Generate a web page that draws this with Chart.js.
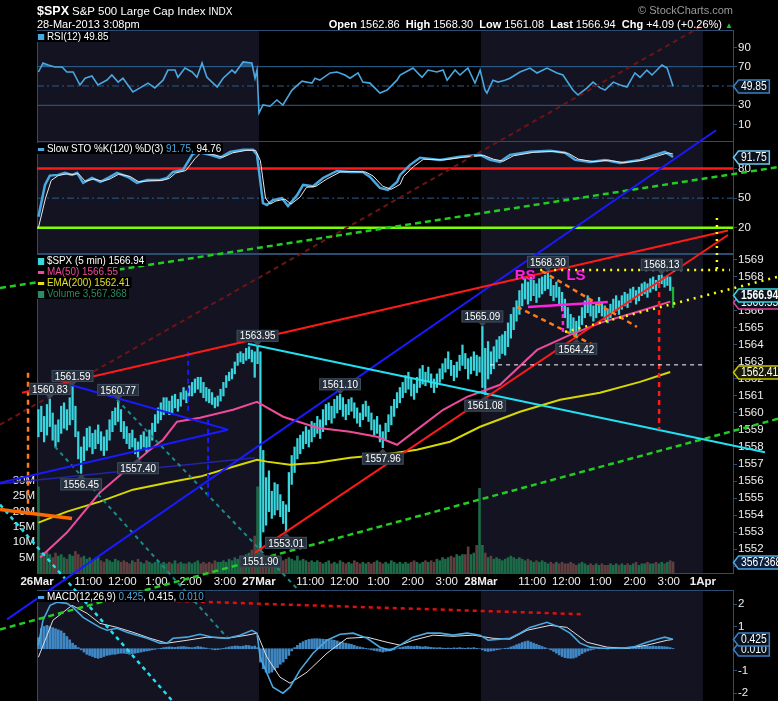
<!DOCTYPE html>
<html><head><meta charset="utf-8">
<script src="https://cdn.jsdelivr.net/npm/chart.js"></script>
<style>
html,body{margin:0;padding:0;background:#000;width:778px;height:701px;overflow:hidden;}
canvas{position:absolute;left:0;top:0;}
.t{position:absolute;white-space:nowrap;font-family:'Liberation Sans',Arial,sans-serif;color:#fff;z-index:10;}
.lg{position:absolute;white-space:nowrap;font-family:'Liberation Sans',Arial,sans-serif;font-size:11px;line-height:11px;z-index:10;color:#fff;transform:scaleX(0.9);transform-origin:0 0;}
.lg div{background:#000;display:inline-block;padding:0 2px 0 1px;}
.ic{display:inline-block;width:7px;height:3px;vertical-align:middle;margin-right:3px;}
</style></head><body>
<canvas id="cRsi" width="778" height="740" style="z-index:1"></canvas>
<canvas id="cSto" width="778" height="740" style="z-index:1"></canvas>
<canvas id="cMacd" width="778" height="740" style="z-index:1"></canvas>
<canvas id="cMain" width="778" height="740" style="z-index:2"></canvas>

<div class="t" style="left:37px;top:4px;font-size:11px"><b style="font-size:12.5px">$SPX</b> <span style="font-size:11.5px">S&amp;P 500 Large Cap Index</span> <span style="font-size:10px">INDX</span></div>
<div class="t" style="left:37px;top:18px;font-size:11px">28-Mar-2013 3:08pm</div>
<div class="t" style="right:45px;top:18px;font-size:11px"><b>Open</b> 1562.86 &nbsp;<b>High</b> 1568.30 &nbsp;<b>Low</b> 1561.08 &nbsp;<b>Last</b> 1566.94 &nbsp;<b>Chg</b> +4.09 (+0.26%) <span style="color:#22c43a;font-size:8px">&#9650;</span></div>
<div class="t" style="right:45px;top:4px;font-size:11px;color:#9a9a9a">&copy; StockCharts.com</div>

<div class="lg" style="left:37px;top:31px"><div><span class="ic" style="background:#4aa8e0;height:6px"></span>RSI(12) 49.85</div></div>
<div class="lg" style="left:37px;top:143px"><div><span class="ic" style="background:#4aa8e0"></span>Slow STO %K(120) %D(3) <span style="color:#4aa8e0">91.75,</span> 94.76</div></div>
<div class="lg" style="left:37px;top:255px">
  <div><span class="ic" style="background:#3ad6df;height:7px"></span>$SPX (5 min) 1566.94</div><br>
  <div style="color:#ee4b9b"><span class="ic" style="background:#ee4b9b"></span>MA(50) 1566.55</div><br>
  <div style="color:#e0e020"><span class="ic" style="background:#e0e020"></span>EMA(200) 1562.41</div><br>
  <div style="color:#2a8a6a"><span class="ic" style="background:#2a8a6a;height:7px"></span>Volume 3,567,368</div>
</div>
<div class="lg" style="left:37px;top:591px"><div><span class="ic" style="background:#4aa8e0"></span>MACD(12,26,9) <span style="color:#4aa8e0">0.425</span>, 0.415, <span style="color:#4aa8e0">0.010</span></div></div>

<script>
// ---------------- DATA ----------------
const xTickValues = [-0.5,17.5,29.5,41.5,53.5,65.5,77.5,95.5,107.5,119.5,131.5,143.5,155.5,173.5,185.5,197.5,209.5,221.5,233.5];
const xTickLabels = ['26Mar','11:00','12:00','1:00','2:00','3:00','27Mar','11:00','12:00','1:00','2:00','3:00','28Mar','11:00','12:00','1:00','2:00','3:00','1Apr'];
const shadedSessions = [[-0.5,77.5],[155.5,233.5]];

const barLow = [
1558.6,1558.9,1558.3,1558.7,1559.2,1558.4,1558.0,1558.3,1558.8,1559.1,
1559.0,1559.3,1559.6,1558.6,1557.3,1556.45,1557.2,1557.8,1558.0,1557.6,
1557.9,1558.2,1557.8,1557.5,1557.8,1558.4,1558.9,1559.3,1559.5,1558.9,
1558.5,1558.2,1557.9,1558.0,1557.6,1557.4,1557.8,1558.0,1557.7,1558.0,
1558.4,1558.9,1559.4,1559.6,1559.9,1560.1,1559.9,1560.0,1560.3,1560.1,
1560.4,1560.8,1560.6,1561.0,1561.0,1561.2,1561.4,1561.2,1560.9,1560.7,
1560.6,1560.5,1560.3,1560.4,1560.7,1561.0,1561.5,1561.9,1562.0,1562.3,
1562.8,1563.0,1562.9,1563.1,1563.2,1563.0,1562.1,1562.9,
1551.9,1553.0,1553.4,1554.2,1553.8,1554.0,1554.3,1553.9,1553.5,1553.01,
1554.2,1555.8,1556.5,1557.3,1557.6,1557.9,1558.2,1558.0,1558.3,1558.6,
1558.8,1558.5,1558.9,1559.3,1559.6,1559.4,1559.7,1560.0,1560.2,1559.8,
1559.6,1559.9,1560.1,1559.7,1559.4,1559.2,1559.6,1559.8,1559.5,1559.0,
1558.7,1558.8,1558.3,1557.96,1558.4,1558.9,1559.3,1559.8,1560.3,1560.6,
1560.9,1561.2,1561.4,1561.0,1560.8,1561.2,1561.5,1561.7,1561.6,1561.9,
1561.5,1561.2,1561.5,1561.8,1562.0,1562.4,1562.6,1562.2,1561.9,1562.1,
1562.5,1562.8,1562.6,1562.0,1562.3,1562.5,1562.2,1562.4,
1561.5,1561.08,1562.0,1562.3,1562.6,1563.0,1563.2,1563.5,1563.4,1563.9,
1564.4,1564.9,1565.4,1565.8,1566.3,1566.7,1566.4,1566.6,1566.9,1566.5,
1566.8,1567.0,1567.2,1567.3,1566.9,1566.6,1566.8,1566.4,1566.0,1565.6,
1565.0,1564.7,1564.6,1564.42,1564.8,1565.2,1565.6,1565.9,1565.7,1565.4,
1565.6,1565.9,1565.7,1565.5,1565.3,1565.6,1565.9,1566.0,1565.8,1566.1,
1566.3,1566.2,1566.5,1566.7,1566.4,1566.6,1566.9,1567.0,1566.8,1567.1,
1567.3,1567.2,1567.5,1567.6,1567.4,1567.5,1567.2,1566.2];

const barHigh = [
1560.2,1560.4,1559.8,1560.5,1560.83,1560.0,1559.3,1559.6,1560.4,1560.6,
1560.2,1560.9,1561.59,1560.4,1558.9,1558.0,1558.6,1559.1,1559.2,1558.8,
1559.0,1559.3,1558.9,1558.6,1559.0,1559.6,1560.1,1560.3,1560.77,1560.2,
1559.5,1559.2,1558.8,1559.0,1558.5,1558.3,1558.7,1558.9,1558.6,1559.0,
1559.4,1559.9,1560.3,1560.6,1560.9,1560.9,1560.7,1561.0,1561.1,1560.8,
1561.2,1561.5,1561.3,1561.6,1561.8,1562.0,1562.1,1562.1,1561.8,1561.5,
1561.4,1561.2,1560.9,1561.0,1561.4,1561.8,1562.2,1562.4,1562.6,1563.0,
1563.5,1563.6,1563.5,1563.8,1563.9,1563.7,1563.6,1563.95,
1563.6,1557.8,1556.2,1556.6,1555.4,1555.9,1555.8,1555.2,1554.8,1554.6,
1556.5,1557.5,1558.0,1558.5,1558.7,1558.9,1559.2,1559.0,1559.5,1559.4,
1559.8,1559.6,1560.2,1560.5,1560.6,1560.4,1560.8,1561.0,1561.10,1560.9,
1560.5,1560.8,1560.9,1560.6,1560.3,1560.0,1560.5,1560.7,1560.4,1560.0,
1559.6,1559.8,1559.3,1558.9,1559.4,1559.9,1560.4,1560.8,1561.2,1561.5,
1561.8,1562.2,1562.4,1562.0,1561.7,1562.1,1562.6,1562.8,1562.4,1562.7,
1562.3,1562.0,1562.3,1562.6,1562.9,1563.2,1563.6,1563.1,1562.8,1563.0,
1563.4,1564.0,1563.5,1563.2,1563.3,1563.6,1563.4,1563.3,
1565.09,1563.8,1564.2,1563.6,1563.9,1564.3,1564.5,1564.6,1564.8,1565.3,
1565.8,1566.2,1566.6,1567.2,1567.6,1567.9,1567.7,1568.0,1567.8,1567.6,
1567.9,1568.0,1568.1,1568.30,1567.9,1567.5,1567.7,1567.4,1567.1,1566.7,
1566.2,1565.8,1565.6,1565.4,1565.7,1566.2,1566.6,1566.9,1566.6,1566.3,
1566.5,1566.8,1566.5,1566.3,1566.1,1566.4,1566.7,1566.9,1566.6,1566.9,
1567.1,1567.0,1567.3,1567.4,1567.2,1567.4,1567.6,1567.7,1567.6,1567.9,
1568.0,1567.8,1568.1,1568.13,1568.0,1568.1,1568.0,1567.4];

const volumeM = [
28,6.5,5.5,7,6,5,6.5,5.5,6,5,
4.5,6,5.5,7,6,5,5.5,4.5,5,4,
4.5,5,4,3.5,4.5,4,3.5,4.5,4,3.5,
4,3.5,3,4,3.5,4.5,3.5,3,4,3.5,
3,3.5,4,3,3.5,3,3.5,3,4,3,
3.5,3,3,3.5,3,3.5,4,3,3.5,3,
3.5,3,4,3.5,3.5,4,3.5,4.5,4,5,
4.5,5.5,5,6,6.5,7.5,12,28,
10,6,5,4.5,5.5,5,4.5,5,4,4.5,
5,4.5,4,5.5,4,4.5,4,3.5,4,3.5,
4,3.5,3,3.5,4,3,3.5,3,4,3.5,
3,3.5,3,4,3.5,3,3.5,3,3.5,3,
3.5,4,3.5,3,3.5,3,4,3.5,3,3.5,
3,3.5,3,3.5,4,3.5,3,3.5,4,3.5,
4,3.5,4.5,4,5,4.5,5,5.5,5,6,
5.5,6,6,8.5,6,6.5,9,27.5,
9,6.5,5,5.5,4.5,5,4.5,4,4.5,5,
5.5,5,4.5,5,4.5,4,4.5,4,3.5,4,
3.5,4,3.5,3,3.5,3,3.5,3,3.5,3,
3,3.5,3,2.5,3,3.5,3,2.5,3,2.5,
3,2.5,3,2.5,2.5,3,2.5,3,2.5,3,
2.5,3,2.5,3,3.5,2.5,3,3,3.5,3,
3,3.5,3,3.5,3,3.5,4,3.57];

const ma50 = [[0.6,1551.50],[10,1552.97],[21.6,1555.32],[29.7,1556.49],[39.2,1557.84],[43.8,1558.43],[48.7,1559.49],[56.8,1559.72],[68.4,1560.19],[76.8,1560.66],[86,1559.78],[97.9,1559.13],[109.5,1558.90],[119,1558.60],[126,1558.13],[133,1559.02],[142.2,1560.19],[150.6,1560.95],[162.2,1561.66],[175.2,1563.71],[186.8,1564.59],[198.4,1565.36],[210.3,1565.94],[222,1566.55]];
const ema200 = [[0,1553.55],[10,1554.20],[21.6,1554.79],[33.2,1555.49],[45.2,1555.90],[56.8,1556.26],[68.4,1556.84],[76.8,1557.25],[80.3,1557.14],[88.4,1556.96],[97.9,1557.08],[109.5,1557.37],[121.1,1557.55],[133,1557.84],[144.6,1558.31],[155.2,1559.19],[169.2,1560.07],[183.3,1560.78],[197.3,1561.19],[211.4,1561.83],[222,1562.41]];

const rsi12 = [[0,64.5],[1.6,73.8],[3.4,71.7],[5.8,69.7],[8.3,69.7],[10,64.5],[12.2,64.5],[14.6,51],[16.4,58],[18.8,60.3],[20.9,51],[24.1,56.2],[25.8,61.4],[28,54],[29.7,58],[33.2,43.8],[35.7,48],[38.5,53],[40.9,48],[43.8,56],[45.5,66.5],[48,66.5],[49,59],[51.5,68.6],[54,64.5],[55.7,59],[57.5,73.8],[59.2,59],[62.8,49],[64.9,58],[68,66.5],[69.1,63.5],[71.9,74.9],[75,73.8],[76.1,58],[76.8,66.5],[77.5,22],[78.9,30.3],[81.4,29],[83.8,35.5],[85.9,30.3],[89.1,45.8],[92.6,55],[96.1,53],[97.2,58],[98.9,56],[102.5,63.5],[104.9,64.5],[107.7,61.4],[109.5,58],[112.3,63.5],[114,54],[116.5,53],[120,42.7],[122.5,45.8],[126,56],[127.1,61.4],[131.6,68.6],[134.8,59],[136.9,66.5],[140,64.5],[142.2,66.5],[143.6,56],[146.4,66.5],[148.1,61.4],[150.9,68.6],[153.4,53],[155.2,66.5],[156.9,45.8],[157.6,42.7],[159.7,56],[161.5,54],[163.9,56],[165.7,58],[169.2,64.5],[172.7,68.6],[175.2,63.5],[178.7,68.6],[182.2,63.5],[184.3,61.4],[187.8,45.8],[189.6,40.7],[192.8,48],[194.9,54],[197.4,48],[199.1,45.8],[202,54],[204.4,51],[206.8,49],[209.6,63.5],[211.4,59],[213.8,66.5],[215.6,61.4],[219.1,71.7],[220.9,68.6],[223,49.85]];

const stoK = [[0,31],[2.3,63.4],[4,72.9],[6.9,73.6],[9.3,75.6],[11.8,73.6],[13.6,75.6],[15.7,65.5],[18.8,70.5],[21.7,66.5],[24.5,70.5],[27.6,75.6],[31.5,71.5],[34.6,65.5],[38.2,68.5],[42.7,68.5],[45.2,70.5],[47.3,76.6],[50.8,78.7],[54,94],[55.7,97],[60.3,94],[63.8,90.9],[67.3,97],[71.9,99],[75.4,99],[76.8,94],[78.9,45],[80.3,43],[82.4,48],[85.6,50],[87.7,42],[90.9,53],[93,63.4],[96.5,62],[100,70.5],[104.9,77.6],[109.5,76.6],[114,76.6],[116.5,71.5],[120,60.4],[122.8,58.4],[126,66.4],[127.1,73.6],[130.6,83.8],[134.1,90.9],[141.1,88.8],[148.1,91.9],[155.2,93.9],[158.7,88.8],[162.2,86.8],[165.7,93.9],[172.7,97],[179.8,98],[185,96],[188.6,88.8],[193.9,86.8],[199.1,88.8],[204.4,85.8],[211.4,88.8],[216.6,93.9],[220.1,97],[221.9,93.9],[223,91.75]];
const stoD = [[0,20],[2.5,50],[4.5,68],[7,73],[9.8,74.5],[12.3,74],[14,75],[16.5,67],[19.5,69.5],[22.5,67],[25.2,69.5],[28.3,74.5],[32.2,72],[35.3,66.5],[38.9,67.5],[43.4,68],[46,70],[48.2,75.5],[51.8,78],[55,90],[57,96],[61.2,94.5],[64.8,91.5],[68.3,96],[73,98.5],[76.3,98.5],[78,88],[79.8,50],[81.4,44],[83.4,47],[86.6,49],[88.8,44],[91.9,51],[94.2,61],[97.5,62],[101.1,69],[106,76.5],[110.5,77],[115,76.5],[117.6,72.5],[121,62],[124,59],[127.1,64],[128.3,72],[131.8,82],[135.3,89.5],[142.3,88.8],[149.3,91.5],[156.4,93.5],[159.9,89.5],[163.4,87.5],[166.9,93],[173.9,96.5],[181,97.5],[186.2,95.5],[189.8,89.5],[195.1,87],[200.3,88.5],[205.6,86],[212.6,88.5],[217.8,93],[221.3,96],[223,94.76]];

const macdLine = [[0,0.16],[1.6,1.28],[4.1,1.95],[6.5,2.09],[10,2.04],[12.2,1.86],[15.7,1.41],[19.2,1.14],[21.6,0.96],[24.1,0.83],[27.6,0.92],[31.1,0.74],[34.6,0.61],[38.2,0.47],[42.7,0.25],[45.2,0.25],[47.3,0.47],[52.2,0.52],[56.8,0.65],[61.3,0.52],[66.3,0.47],[70.8,0.61],[75,0.83],[76.8,0.7],[77.9,-0.38],[80.3,-1.1],[82.4,-1.73],[85.9,-2.0],[88.4,-1.73],[91.9,-0.96],[96.5,-0.2],[101.4,0.38],[106,0.65],[110.6,0.7],[115.5,0.47],[120,0.07],[123.5,-0.07],[127.1,0.16],[131.6,0.52],[136.6,0.7],[141.1,0.7],[145.7,0.61],[150.6,0.7],[155.2,0.61],[158,0.38],[162.2,0.43],[165.7,0.47],[169.2,0.7],[172.7,0.96],[178.7,1.19],[183.3,0.96],[186.8,0.7],[190.3,0.25],[193.9,0.07],[198.4,0.02],[204.4,0.02],[208.9,0.07],[213.8,0.29],[217.3,0.43],[220.1,0.52],[223,0.425]];
const macdSignal = [[0,-0.38],[5.1,1.28],[11.8,1.95],[17.1,1.59],[21.6,1.14],[27.6,0.96],[33.2,0.74],[39.2,0.47],[45.2,0.25],[52.2,0.38],[59.2,0.52],[66.3,0.47],[73.3,0.61],[76.8,0.7],[80.3,-0.38],[84.9,-1.28],[88.4,-1.55],[94.4,-1.05],[101.4,-0.2],[108.4,0.47],[115.5,0.52],[122.5,0.29],[127.1,0.16],[131.6,0.38],[138.7,0.61],[145.7,0.56],[152.7,0.61],[159.7,0.47],[165.7,0.43],[171.7,0.83],[179.8,1.05],[185.7,0.96],[192.8,0.29],[199.8,0.07],[206.8,0.02],[213.8,0.16],[220.9,0.38],[223,0.415]];
const macdHist = [
0.5,0.9,1.0,1.05,1.0,0.95,0.9,0.85,0.8,0.7,
0.55,0.4,0.25,0.15,0.05,-0.05,-0.15,-0.25,-0.3,-0.35,
-0.4,-0.43,-0.4,-0.35,-0.3,-0.28,-0.25,-0.25,-0.22,-0.2,
-0.2,-0.22,-0.25,-0.22,-0.2,-0.18,-0.15,-0.12,-0.1,-0.08,
-0.05,-0.03,0,0.02,0.05,0.07,0.08,0.07,0.06,0.08,
0.09,0.1,0.08,0.06,0.05,0.07,0.1,0.08,0.05,0.03,
0,-0.03,-0.05,-0.04,-0.02,0.02,0.05,0.08,0.1,0.12,
0.12,0.1,0.12,0.15,0.14,0.1,0.12,0.05,
-0.6,-0.9,-1.05,-1.1,-1.05,-0.95,-0.85,-0.7,-0.6,-0.45,
-0.3,-0.1,0.05,0.15,0.25,0.32,0.38,0.42,0.44,0.45,
0.45,0.44,0.43,0.42,0.4,0.4,0.38,0.35,0.3,0.28,
0.25,0.22,0.2,0.15,0.1,0.08,0.05,0.02,-0.02,-0.05,
-0.08,-0.1,-0.12,-0.15,-0.12,-0.1,-0.08,-0.05,0,0.05,
0.08,0.1,0.12,0.1,0.1,0.12,0.1,0.08,0.1,0.08,
0.06,0.05,0.04,0.05,0.03,0.02,0.03,0.02,0.04,0.03,
0.05,0.03,0.02,0.04,0.03,0.05,0.02,0,
-0.05,-0.1,-0.12,-0.1,-0.08,-0.05,-0.03,0,0.02,0.03,
0.08,0.12,0.18,0.22,0.28,0.32,0.35,0.3,0.25,0.2,
0.15,0.1,0.05,0,-0.05,-0.12,-0.2,-0.28,-0.35,-0.4,
-0.42,-0.43,-0.42,-0.38,-0.3,-0.22,-0.15,-0.1,-0.06,-0.03,
0,0.02,0.01,0,-0.02,0,0.02,0.03,0.02,0.04,
0.05,0.06,0.08,0.1,0.1,0.12,0.1,0.11,0.12,0.1,
0.12,0.1,0.11,0.1,0.09,0.08,0.05,0.01];

const priceTicks = [1551,1552,1553,1554,1555,1556,1557,1558,1559,1560,1561,1562,1563,1564,1565,1566,1567,1568,1569];
const volTicks = [5,10,15,20,25,30];
const rsiTicks = [10,30,70,90];
const stoTicks = [20,50,80];
const macdTicks = [-2,-1,1,2];
const rsiLevels = [30,70]; const rsiMid = 50;
const stoOverbought = 80, stoOversold = 20, stoMid = 50;
const lastClose = 1566.94, lastMA = 1566.55, lastEMA = 1562.41, lastVolM = 3.567368;
const lastMacd = 0.425, lastHist = 0.010;

// hand-drawn trendlines (bar index, price)
const redUpper = [[-5.76,1561.19],[242.3,1570.73]];
const redLower = [[76.1,1551.79],[242.3,1570.47]];
const blueChannel = [[-11.03,1547.86],[238.1,1576.63]];
const greenLower = [[-13.5,1547.27],[259.9,1559.66]];
const greenUpper = [[-13.5,1567.35],[259.9,1574.46]];
const darkRedDotted = [[-13.5,1559.31],[234.2,1582.86]];
const cyanDown = [[73.6,1564.07],[255.3,1557.69]];
const triUpper = [[11.1,1561.66],[66.6,1559.02]];
const triLower = [[-13.5,1555.90],[66.6,1559.02]];
const navySupport = [[-13.5,1555.84],[76.1,1557.37]];
const blueDashV1 = [[52.6,1563.60],[52.6,1559.90]];
const blueDashV2 = [[59.6,1559.60],[59.6,1555.02]];
const orangeDashV = [[-3.65,1562.36],[-3.65,1554.32]];
const orangeSolid = [[-13.5,1554.32],[11.8,1553.79]];
const cyanDotted = [[-13.5,1554.61],[46.9,1543.10]];
const tealA = [[5.8,1558.02],[66.3,1546.80]];
const tealB = [[27.6,1560.78],[91.2,1549.62]];
const redDashV = [[218.1,1567.65],[218.1,1559.02]];
const whiteDashH = [[158.7,1562.83],[233.2,1562.83]];
const yellowDotH = [[176.3,1568.41],[243,1568.41]];
const yellowDotV = [[238.4,1571.46],[238.4,1568.41]];
const yellowDotDiag = [[185.0,1564.77],[259.5,1568.0]];
const orangeDashA = [[176.9,1568.35],[210.3,1565.06]];
const orangeDashB = [[168.2,1566.24],[196.3,1563.89]];
const magentaNeck = [[172.0,1566.24],[200.1,1566.53]];
const magentaDashV = [[184.3,1566.24],[184.3,1564.71]];
const macdTrend = [[6.5,2.32],[191.4,1.55]];

// labelled extremes: [bar index, 'hi'|'lo']
const extremeLabels = [[4,'hi'],[12,'hi'],[28,'hi'],[15,'lo'],[35,'lo'],[77,'hi'],[78,'lo'],[87,'lo'],[106,'hi'],[121,'lo'],[156,'hi'],[157,'lo'],[179,'hi'],[189,'lo'],[219,'hi']];
const patternTexts = [[171,1568.06,'RS'],[188.9,1568.06,'LS']];

// ---------------- CHARTS ----------------
const TFONT = "'Liberation Sans',Arial,sans-serif";
const X_MIN = -0.5, X_MAX = 244.06;
const AXIS_COL = '#2a4d70';
const SX = 0.86; // horizontal condense for canvas labels
Chart.defaults.color = '#fff';

const pts = a => a.map(p => ({x: p[0], y: p[1]}));
const seg = (a, color, width, dash, yAxisID, order) => ({type:'line', data: pts(a), borderColor: color, borderWidth: width, borderDash: dash || [], pointRadius: 0, tension: 0, clip: false, yAxisID: yAxisID || 'y', order: order == null ? 5 : order, fill: false});
const hline = (lvl, color, width, dash, order) => seg([[X_MIN, lvl],[X_MAX, lvl]], color, width, dash, 'y', order);

const xHidden = {type:'linear', min:X_MIN, max:X_MAX, offset:false, display:false};
const tickFont = {family: TFONT, size: 11.5};
function yRight(min, max, ticks) {
  return {position:'right', min, max,
    afterBuildTicks: s => { s.ticks = ticks.map(v => ({value: v})); },
    afterFit: s => { s.width = 45; },
    grid: {drawOnChartArea:false, drawTicks:true, tickLength:4, color:AXIS_COL},
    border: {color: AXIS_COL},
    ticks: {color:'#eee', padding:1, font: tickFont, callback: v => String(v)}};
}
function condText(ctx, text, x, y) {
  ctx.save(); ctx.translate(x, y); ctx.scale(SX, 1); ctx.fillText(text, 0, 0); ctx.restore();
}

const panelPlugin = {
  id: 'panel',
  beforeDraw(chart) {
    const {ctx, chartArea: a} = chart; const xs = chart.scales.x;
    ctx.save();
    shadedSessions.forEach(([s, e]) => {
      const x1 = Math.max(a.left, xs.getPixelForValue(s));
      const x2 = Math.min(a.right, xs.getPixelForValue(e));
      ctx.fillStyle = '#131321';
      ctx.fillRect(x1, a.top, x2 - x1, a.bottom - a.top);
    });
    ctx.strokeStyle = AXIS_COL; ctx.lineWidth = 1;
    ctx.strokeRect(a.left + 0.5, a.top + 0.5, a.right - a.left, a.bottom - a.top);
    ctx.restore();
  }
};

function tagPlugin(tags) {
  return {id: 'tags', afterDraw(chart) {
    const ctx = chart.ctx; ctx.save();
    tags.forEach(t => {
      const y = Math.round(chart.scales[t.axis].getPixelForValue(t.value)) + 0.5;
      ctx.font = (t.bold ? 'bold ' : '') + '12px ' + TFONT;
      const w = ctx.measureText(t.text).width * SX + 5;
      const x0 = chart.chartArea.right + 0.5, x1 = x0 + 5, x2 = x1 + w, h = 6.5;
      ctx.beginPath(); ctx.moveTo(x0, y); ctx.lineTo(x1, y - h); ctx.lineTo(x2, y - h); ctx.lineTo(x2, y + h); ctx.lineTo(x1, y + h); ctx.closePath();
      ctx.fillStyle = t.fill || '#07121c'; ctx.fill();
      ctx.strokeStyle = t.border; ctx.lineWidth = 1.5; ctx.stroke();
      ctx.fillStyle = '#fff'; ctx.textAlign = 'left'; ctx.textBaseline = 'middle';
      condText(ctx, t.text, x1 + 2.5, y + 0.5);
    });
    ctx.restore();
  }};
}

const annotPlugin = {
  id: 'annot',
  afterDatasetsDraw(chart) {
    const {ctx} = chart; const xs = chart.scales.x, ys = chart.scales.y;
    ctx.save();
    ctx.font = '11.5px ' + TFONT;
    extremeLabels.forEach(([i, kind]) => {
      const v = kind === 'hi' ? barHigh[i] : barLow[i];
      const text = v.toFixed(2);
      const px = xs.getPixelForValue(i), py = ys.getPixelForValue(v);
      const w = ctx.measureText(text).width * SX + 6, h = 12;
      const by = kind === 'hi' ? py - 4 - h : py + 5;
      ctx.fillStyle = '#3a4654';
      ctx.beginPath();
      if (kind === 'hi') { ctx.moveTo(px - 4, by + h); ctx.lineTo(px + 4, by + h); ctx.lineTo(px, by + h + 4); }
      else { ctx.moveTo(px - 4, by); ctx.lineTo(px + 4, by); ctx.lineTo(px, by - 4); }
      ctx.fill();
      ctx.fillStyle = 'rgba(40,50,63,0.95)'; ctx.fillRect(px - w / 2, by, w, h);
      ctx.strokeStyle = '#3d4b5c'; ctx.lineWidth = 1; ctx.strokeRect(px - w / 2 + 0.5, by + 0.5, w - 1, h - 1);
      ctx.fillStyle = '#fff'; ctx.textAlign = 'center'; ctx.textBaseline = 'middle';
      condText(ctx, text, px, by + h / 2 + 0.5);
    });
    ctx.font = 'bold 15px ' + TFONT;
    ctx.fillStyle = '#ff22dd'; ctx.textAlign = 'center'; ctx.textBaseline = 'middle';
    patternTexts.forEach(([b, p, s]) => ctx.fillText(s, xs.getPixelForValue(b), ys.getPixelForValue(p)));
    ctx.restore();
  }
};

const common = {responsive:false, animation:false, events:[], plugins:{legend:{display:false}, tooltip:{enabled:false}}};

// RSI
new Chart(document.getElementById('cRsi'), {
  type: 'line',
  data: {datasets: [
    hline(rsiMid, '#2d5f8c', 1, [7,3,2,3], 20),
    ...rsiLevels.map(l => hline(l, '#2d5f8c', 1, [], 20)),
    {type:'line', data: pts(rsi12), borderColor:'#4aa8e0', borderWidth:1.6, pointRadius:0, tension:0, order:1,
     fill: {target: {value: 70}, above: 'rgba(74,168,224,0.45)', below: 'rgba(0,0,0,0)'}}
  ]},
  options: {...common, layout:{padding:{left:37, right:0, top:30, bottom:599}},
    scales: {x: xHidden, y: yRight(-7, 108, rsiTicks)}},
  plugins: [panelPlugin, tagPlugin([{axis:'y', value: rsi12[rsi12.length-1][1], text:'49.85', border:'#3d7fc0'}])]
});

// Slow stochastic
new Chart(document.getElementById('cSto'), {
  type: 'line',
  data: {datasets: [
    hline(stoMid, '#2d5f8c', 1, [7,3,2,3], 20),
    hline(stoOverbought, '#ff1a1a', 2.5, [], 15),
    hline(stoOversold, '#7cff00', 2.5, [], 15),
    {type:'line', data: pts(stoK), borderColor:'#4aa8e0', borderWidth:2.5, pointRadius:0, tension:0, order:2},
    {type:'line', data: pts(stoD), borderColor:'#e8e8e8', borderWidth:1, pointRadius:0, tension:0, order:1}
  ]},
  options: {...common, layout:{padding:{left:37, right:0, top:141, bottom:487}},
    scales: {x: xHidden, y: yRight(-5.7, 108, stoTicks)}},
  plugins: [panelPlugin, tagPlugin([{axis:'y', value: stoK[stoK.length-1][1], text:'91.75', border:'#6cc8f0'}])]
});

// MACD
new Chart(document.getElementById('cMacd'), {
  type: 'bar',
  data: {datasets: [
    {type:'bar', data: macdHist.map((v,i) => ({x:i, y:v})), backgroundColor:'rgba(70,150,215,0.9)', barThickness:2, grouped:false, order:10},
    {type:'line', data: pts(macdSignal), borderColor:'#e0e0e0', borderWidth:1, pointRadius:0, tension:0, order:2},
    {type:'line', data: pts(macdLine), borderColor:'#4aa8e0', borderWidth:1.6, pointRadius:0, tension:0, order:1},
    seg(macdTrend, '#e01010', 2.5, [4,4], 'y', 0)
  ]},
  options: {...common, layout:{padding:{left:37, right:0, top:590, bottom:39}},
    scales: {x: xHidden, y: yRight(-2.35, 2.64, macdTicks)}},
  plugins: [panelPlugin, tagPlugin([
    {axis:'y', value: lastHist, text:'0.010', border:'#3d7fc0'},
    {axis:'y', value: lastMacd, text:'0.425', border:'#3d7fc0'}])]
});

// Main price panel
const priceData = barLow.map((lo, i) => ({x: i, y: [lo, barHigh[i]]}));
const priceColors = barLow.map((lo, i) => i === barLow.length - 1 ? '#1fb03a' : '#3ad6df');
const volColors = volumeM.map((v, i) => (i === 0 || barLow[i] + barHigh[i] >= barLow[i-1] + barHigh[i-1]) ? '#1c6a47' : '#5e3e3e');

new Chart(document.getElementById('cMain'), {
  type: 'bar',
  data: {datasets: [
    {type:'bar', data: volumeM.map((v,i) => ({x:i, y:v})), yAxisID:'yVol', backgroundColor: volColors, barThickness:2, grouped:false, order:100},
    {type:'bar', data: priceData, yAxisID:'y', backgroundColor: priceColors, barThickness:1.6, grouped:false, order:60},
    seg(ema200, '#d8d800', 2, [], 'y', 50),
    seg(ma50, '#ee4b9b', 2, [], 'y', 49),
    seg(navySupport, '#2424a8', 1.5, [], 'y', 30),
    seg(triUpper, '#1a1aff', 2, [], 'y', 12),
    seg(triLower, '#1a1aff', 2, [], 'y', 12),
    seg(blueDashV1, '#1a1aff', 2, [5,4], 'y', 12),
    seg(blueDashV2, '#1a1aff', 2, [5,4], 'y', 12),
    seg(tealA, '#1a8a8a', 2, [4,4], 'y', 14),
    seg(tealB, '#1a8a8a', 2, [4,4], 'y', 14),
    seg(cyanDotted, '#22e0f0', 2.5, [4,4], 'y', 13),
    seg(orangeDashV, '#ff7a1a', 2.5, [5,4], 'y', 12),
    seg(orangeSolid, '#ff6a00', 3.5, [], 'y', 12),
    seg(darkRedDotted, '#6e1414', 2, [5,4], 'y', 15),
    seg(greenLower, '#22cc22', 2.5, [6,4], 'y', 11),
    seg(greenUpper, '#22cc22', 2.5, [6,4], 'y', 11),
    seg(cyanDown, '#22e0f0', 2, [], 'y', 10),
    seg(blueChannel, '#1a1aff', 2, [], 'y', 10),
    seg(redLower, '#ff1a1a', 2, [], 'y', 9),
    seg(redUpper, '#ff1a1a', 2, [], 'y', 9),
    seg(whiteDashH, '#ffffff', 1, [4,4], 'y', 8),
    seg(redDashV, '#ff1a1a', 2.5, [5,4], 'y', 8),
    seg(orangeDashA, '#ff7a1a', 2.5, [5,4], 'y', 8),
    seg(orangeDashB, '#ff7a1a', 2.5, [5,4], 'y', 8),
    seg(magentaNeck, '#ff22dd', 2.5, [], 'y', 7),
    seg(magentaDashV, '#ff22dd', 2.5, [4,3], 'y', 7),
    seg(yellowDotH, '#ffff00', 2.5, [2,5], 'y', 7),
    seg(yellowDotV, '#ffff00', 2.5, [2,5], 'y', 7),
    seg(yellowDotDiag, '#ffff00', 2.5, [2,5], 'y', 7)
  ]},
  options: {...common, layout:{padding:{left:0, right:0, top:254, bottom:151}},
    scales: {
      x: {type:'linear', min:X_MIN, max:X_MAX, offset:false,
        grid:{display:false, drawTicks:false}, border:{display:false},
        afterBuildTicks: s => { s.ticks = xTickValues.map(v => ({value: v})); },
        afterFit: s => { s.height = 16; },
        ticks: {autoSkip:false, maxRotation:0, padding:2, color:'#eee',
          font: c => ({family: TFONT, size: 11.5, weight: /[A-Za-z]/.test(xTickLabels[c.index] || '') ? 'bold' : 'normal'}),
          callback: (v, i) => xTickLabels[i]}},
      y: yRight(1550.59, 1569.35, priceTicks),
      yVol: {position:'left', min:0, max:103.7,
        afterBuildTicks: s => { s.ticks = volTicks.map(v => ({value: v})); },
        afterFit: s => { s.width = 37; },
        grid:{display:false, drawTicks:false}, border:{display:false},
        ticks:{color:'#eee', padding:2, font: tickFont, callback: v => v + 'M'}}
    }},
  plugins: [panelPlugin, annotPlugin, tagPlugin([
    {axis:'yVol', value: lastVolM, text:'3567368', border:'#4aa8e0', fill:'#0d1e3a'},
    {axis:'y', value: lastEMA, text: lastEMA.toFixed(2), border:'#c8c800', fill:'#1a1a08'},
    {axis:'y', value: lastMA, text: lastMA.toFixed(2), border:'#e0409a'},
    {axis:'y', value: lastClose, text: lastClose.toFixed(2), border:'#3ad6df', bold:true}])]
});
</script>
</body></html>
